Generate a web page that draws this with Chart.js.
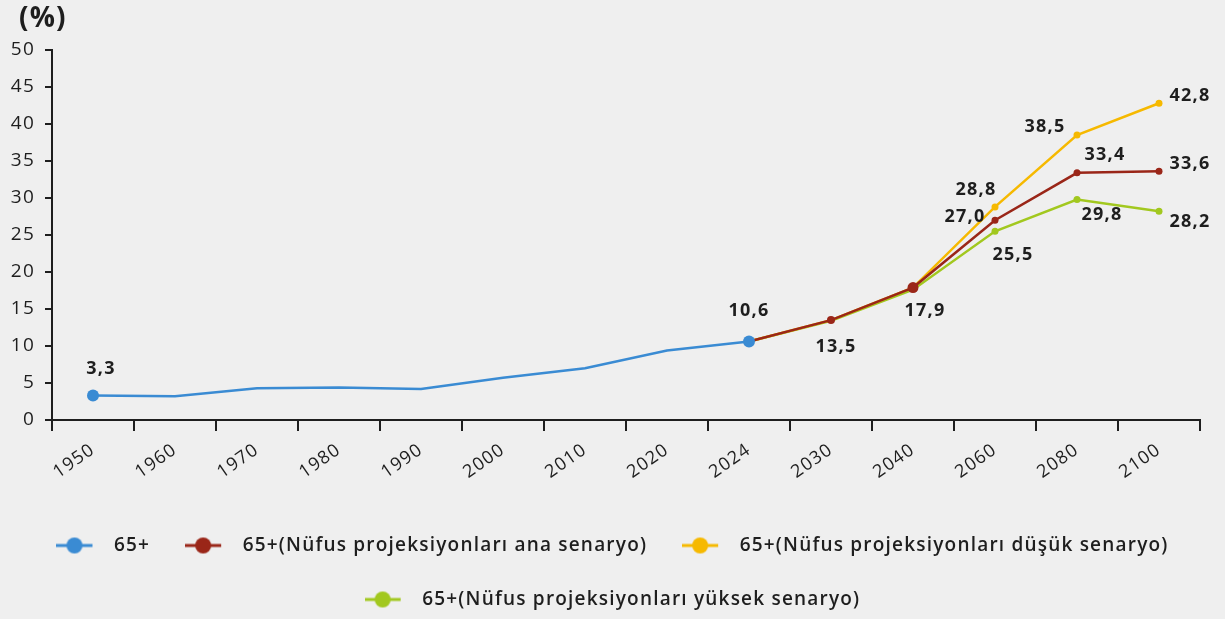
<!DOCTYPE html>
<html>
<head>
<meta charset="utf-8">
<script src="https://cdn.jsdelivr.net/npm/chart.js@4.4.0/dist/chart.umd.min.js"></script>
<style>
  html, body { margin: 0; padding: 0; background: #efefef; }
  #wrap { width: 1225px; height: 619px; position: relative; }
</style>
</head>
<body>
<div id="wrap"><canvas id="chart" width="1225" height="619"></canvas></div>
<script>
// categories + series
var years = ['1950', '1960', '1970', '1980', '1990', '2000', '2010', '2020', '2024', '2030', '2040', '2060', '2080', '2100'];
var observed = [3.3, 3.2, 4.3, 4.4, 4.2, 5.7, 7.0, 9.4, 10.6, null, null, null, null, null];
var mainScenario = [null, null, null, null, null, null, null, null, 10.6, 13.5, 17.9, 27.0, 33.4, 33.6];
var lowScenario = [null, null, null, null, null, null, null, null, 10.6, 13.5, 17.9, 28.8, 38.5, 42.8];
var highScenario = [null, null, null, null, null, null, null, null, 10.6, 13.4, 17.6, 25.5, 29.8, 28.2];
var yTicks = [0, 5, 10, 15, 20, 25, 30, 35, 40, 45, 50];

var seriesNames = ['65+', '65+(Nüfus projeksiyonları ana senaryo)', '65+(Nüfus projeksiyonları düşük senaryo)', '65+(Nüfus projeksiyonları yüksek senaryo)'];
var colors = ['#3a8bd3', '#9a2618', '#f6b900', '#a2c81f'];

// which points get a value label, and where (dx, dy from the point)
var labelSpots = [
  {0: [8, -27], 8: [0, -31]},
  {9: [5, 27], 10: [12, 23], 11: [-30, -3], 12: [28, -18], 13: [31, -7]},
  {11: [-19, -17], 12: [-32, -8], 13: [31, -7]},
  {11: [18, 24], 12: [25, 15], 13: [31, 11]}
];

var FONT = '"Open Sans", sans-serif';
var ink = '#1e1e1e';
var SPACING = '1.2px'; // wide lettering, like the original

function radiiFor(big, small) {
  return years.map(function(y, i) {
    if (big[i] !== undefined) return big[i];
    return small;
  });
}

// little legend marker: line with a dot on it
function legendMark(color) {
  var c = document.createElement('canvas');
  c.width = 48; c.height = 20;
  var g = c.getContext('2d');
  g.strokeStyle = color; g.lineWidth = 3;
  g.beginPath(); g.moveTo(0, 10); g.lineTo(36, 10); g.stroke();
  g.fillStyle = color;
  g.beginPath(); g.arc(18, 10, 8, 0, Math.PI * 2); g.fill();
  return c;
}
var marks = colors.map(legendMark);

var datasets = [observed, mainScenario, lowScenario, highScenario].map(function(vals, k) {
  var radius;
  if (k === 0) radius = radiiFor({0: 6, 8: 6}, 0);
  else if (k === 1) radius = radiiFor({8: 0, 9: 4, 10: 5.5}, 3.5);
  else radius = radiiFor({8: 0, 9: 0, 10: 0}, 3.5);
  return {
    label: seriesNames[k],
    data: vals,
    borderColor: colors[k],
    backgroundColor: colors[k],
    borderWidth: 2.5,
    pointRadius: radius,
    pointBorderWidth: 0,
    pointHoverRadius: radius,
    tension: 0,
    spanGaps: false
  };
});

var paperBg = {
  id: 'paperBg',
  beforeUpdate: function(chart) { chart.ctx.letterSpacing = SPACING; },
  beforeDraw: function(chart) {
    var ctx = chart.ctx;
    ctx.letterSpacing = SPACING;
    ctx.save();
    ctx.fillStyle = '#efefef';
    ctx.fillRect(0, 0, chart.width, chart.height);
    ctx.fillStyle = ink;
    ctx.font = 'bold 28px ' + FONT;
    ctx.textBaseline = 'middle';
    ctx.fillText('(%)', 19, 19);
    ctx.restore();
  }
};

var valueLabels = {
  id: 'valueLabels',
  afterDatasetsDraw: function(chart) {
    var ctx = chart.ctx;
    ctx.save();
    ctx.font = 'bold 18px ' + FONT;
    ctx.fillStyle = ink;
    ctx.textAlign = 'center';
    ctx.textBaseline = 'middle';
    labelSpots.forEach(function(spots, k) {
      var meta = chart.getDatasetMeta(k);
      Object.keys(spots).forEach(function(i) {
        var pt = meta.data[i];
        var v = chart.data.datasets[k].data[i];
        ctx.fillText(v.toFixed(1).replace('.', ','), pt.x + spots[i][0], pt.y + spots[i][1]);
      });
    });
    ctx.restore();
  }
};

new Chart(document.getElementById('chart'), {
  type: 'line',
  data: { labels: years, datasets: datasets },
  plugins: [paperBg, valueLabels],
  options: {
    responsive: false,
    animation: false,
    layout: { padding: { top: 50, right: 0, left: 0, bottom: 0 } },
    plugins: {
      tooltip: { enabled: false },
      legend: {
        position: 'bottom',
        labels: {
          color: ink,
          font: { family: FONT, size: 19, weight: '600' },
          usePointStyle: true,
          pointStyleWidth: 48,
          padding: 35,
          generateLabels: function(chart) {
            return chart.data.datasets.map(function(ds, i) {
              return {
                text: ds.label,
                pointStyle: marks[i],
                fontColor: ink,
                lineWidth: 0,
                strokeStyle: 'transparent',
                fillStyle: 'transparent',
                hidden: false,
                datasetIndex: i
              };
            });
          }
        }
      }
    },
    scales: {
      x: {
        offset: true,
        grid: { display: true, drawOnChartArea: false, offset: true, tickLength: 11, color: ink, lineWidth: 2 },
        border: { display: true, color: ink, width: 2 },
        ticks: { color: ink, font: { family: FONT, size: 18 }, maxRotation: 35, minRotation: 35, padding: 8 },
        afterFit: function(scale) { scale.height = 81; }
      },
      y: {
        min: 0, max: 50,
        afterBuildTicks: function(scale) { scale.ticks = yTicks.map(function(v) { return {value: v}; }); },
        grid: { display: true, drawOnChartArea: false, tickLength: 7, color: ink, lineWidth: 2 },
        border: { display: true, color: ink, width: 2 },
        ticks: { color: ink, font: { family: FONT, size: 19 }, padding: 10 },
        afterFit: function(scale) { scale.width = 52; }
      },
      // empty spacer on the right so the plot ends where the original does
      spacer: {
        type: 'linear', position: 'right',
        grid: { display: false }, border: { display: false }, ticks: { display: false },
        afterFit: function(scale) { scale.width = 25; }
      }
    }
  }
});
</script>
</body>
</html>
